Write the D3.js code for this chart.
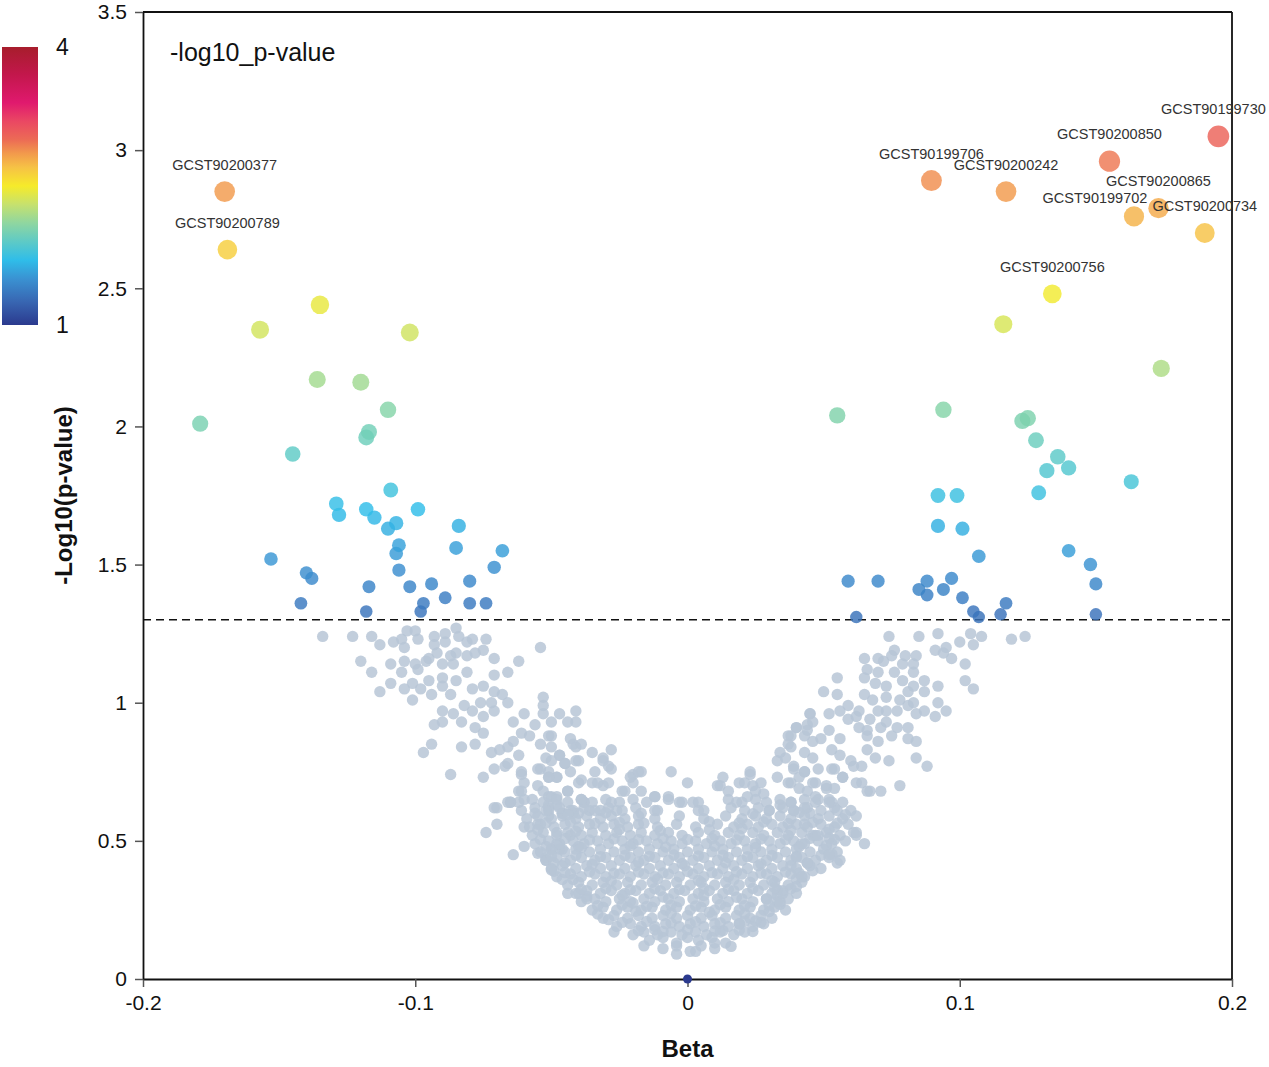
<!DOCTYPE html>
<html>
<head>
<meta charset="utf-8">
<script src="https://cdn.jsdelivr.net/npm/d3@7"></script>
<style>
    body { margin: 0; background: #fff; font-family: "Liberation Sans", Arial, sans-serif; }
</style>
</head>
<body>
<div id="chart"></div>
<script>
// ---- data: [beta, -log10(p)] ----
// non-significant studies (grey)
const grayPoints = [
    // left arm, upper part
    [-0.134,1.24],[-0.123,1.24],[-0.116,1.24],[-0.113,1.21],[-0.108,1.22],[-0.105,1.23],[-0.103,1.26],[-0.100,1.26],[-0.099,1.23],[-0.104,1.20],
    [-0.093,1.24],[-0.089,1.25],[-0.089,1.22],[-0.093,1.21],[-0.085,1.27],[-0.084,1.24],[-0.081,1.22],[-0.079,1.23],[-0.074,1.23],[-0.075,1.19],
    [-0.078,1.18],[-0.081,1.17],[-0.085,1.18],[-0.087,1.17],[-0.092,1.18],[-0.095,1.16],[-0.054,1.20],[-0.120,1.15],[-0.116,1.11],[-0.109,1.14],
    [-0.104,1.15],[-0.105,1.11],[-0.100,1.14],[-0.099,1.12],[-0.096,1.15],[-0.090,1.14],[-0.086,1.14],[-0.081,1.11],[-0.071,1.16],[-0.062,1.15],
    [-0.066,1.11],[-0.071,1.10],[-0.109,1.07],[-0.113,1.04],[-0.104,1.05],[-0.101,1.07],[-0.098,1.05],[-0.095,1.08],[-0.090,1.09],[-0.090,1.06],
    [-0.085,1.08],[-0.087,1.03],[-0.094,1.03],[-0.101,1.01],[-0.079,1.05],[-0.075,1.06],[-0.071,1.04],[-0.068,1.03],[-0.066,1.00],[-0.082,0.99],
    [-0.076,1.00],[-0.072,1.00],[-0.090,0.97],[-0.086,0.96],[-0.083,0.93],[-0.079,0.97],[-0.075,0.95],[-0.071,0.97],[-0.078,0.91],[-0.075,0.89],
    [-0.093,0.92],[-0.090,0.93],[-0.094,0.85],[-0.097,0.82],[-0.083,0.84],[-0.078,0.85],[-0.087,0.74],[-0.064,0.93],[-0.060,0.96],[-0.053,1.02],
    [-0.053,0.99],[-0.053,0.96],[-0.050,0.93],[-0.047,0.96],[-0.041,0.97],[-0.044,0.93],[-0.041,0.93],[-0.056,0.92],[-0.061,0.89],[-0.064,0.86],
    [-0.058,0.88],[-0.054,0.85],[-0.050,0.88],[-0.050,0.84],[-0.043,0.87],[-0.041,0.84],[-0.047,0.81],[-0.052,0.80],[-0.045,0.78],[-0.041,0.79],
    [-0.066,0.84],[-0.069,0.83],[-0.072,0.82],[-0.062,0.81],[-0.066,0.78],[-0.071,0.76],[-0.075,0.73],[-0.061,0.74],[-0.060,0.71],[-0.054,0.76],
    [-0.051,0.73],[-0.048,0.73],[-0.055,0.70],[-0.062,0.68],[-0.065,0.64],[-0.071,0.62],[-0.050,0.66],[-0.044,0.68],[-0.040,0.71],[-0.048,0.63],
    [-0.051,0.61],[-0.038,0.64],
    // left arm, lower part
    [-0.074,0.53],[-0.070,0.56],[-0.064,0.45],[-0.060,0.48],[-0.060,0.55],[-0.055,0.56],[-0.070,0.62],[-0.066,0.64],[-0.052,0.44],[-0.049,0.39],
    [-0.046,0.47],[-0.048,0.49],[-0.035,0.82],[-0.031,0.80],[-0.028,0.83],[-0.029,0.77],[-0.034,0.75],[-0.028,0.76],[-0.035,0.71],[-0.031,0.70],
    [-0.020,0.74],[-0.017,0.75],[-0.020,0.71],[-0.024,0.68],[-0.012,0.66],[-0.007,0.65],[-0.006,0.75],[0.000,0.71],[0.004,0.64],[-0.003,0.64],
    [-0.017,0.60],[-0.011,0.61],[-0.028,0.64],[-0.026,0.61],[-0.032,0.61],[-0.036,0.61],[-0.040,0.60],[-0.051,0.88],[-0.047,0.81],[-0.042,0.85],
    [-0.039,0.85],[-0.031,0.79],[-0.040,0.79],[-0.045,0.78],[-0.050,0.79],[-0.051,0.75],[-0.048,0.73],[-0.043,0.75],[-0.039,0.72],[-0.033,0.71],
    [-0.029,0.71],[-0.021,0.73],[-0.018,0.75],[-0.023,0.68],[-0.017,0.68],[-0.053,0.68],[-0.048,0.66],[-0.044,0.68],[-0.039,0.65],[-0.051,0.62],
    [-0.046,0.60],[-0.042,0.61],
    [-0.048,0.53],[-0.052,0.43],[-0.045,0.42],[-0.047,0.47],[-0.050,0.47],[-0.043,0.52],[-0.040,0.48],[-0.042,0.36],[-0.040,0.31],[-0.037,0.29],
    [-0.067,0.77],[-0.061,0.75],[-0.055,0.76],[-0.051,0.73],[-0.061,0.68],[-0.065,0.64],[-0.060,0.65],[-0.051,0.66],[-0.051,0.63],[-0.051,0.59],
    [-0.046,0.60],[-0.042,0.60],[-0.038,0.64],
    // dense core
    [-0.004,0.09],[0.003,0.10],[0.010,0.13],
    [-0.009,0.11],[-0.004,0.12],[0.001,0.10],[0.005,0.12],[0.010,0.11],
    [-0.014,0.14],[-0.009,0.15],[-0.004,0.13],[0.000,0.15],[0.004,0.14],[0.009,0.15],[0.014,0.13],
    [-0.020,0.16],[-0.016,0.17],[-0.011,0.16],[-0.006,0.17],[-0.002,0.16],[0.003,0.17],[0.007,0.16],[0.012,0.17],[0.017,0.16],[0.021,0.17],
    [-0.026,0.19],[-0.021,0.20],[-0.017,0.19],[-0.012,0.19],[-0.008,0.20],[-0.003,0.19],[0.001,0.20],[0.006,0.19],[0.010,0.20],[0.015,0.19],
    [0.019,0.20],[0.024,0.19],[0.028,0.20],
    [-0.031,0.22],[-0.027,0.23],[-0.022,0.22],[-0.018,0.23],[-0.013,0.22],[-0.009,0.23],[-0.004,0.22],[0.000,0.23],[0.005,0.22],[0.009,0.23],
    [0.014,0.22],[0.018,0.23],[0.023,0.22],[0.027,0.23],[0.031,0.22],
    [-0.035,0.25],[-0.031,0.26],[-0.026,0.25],[-0.022,0.26],[-0.017,0.25],[-0.013,0.26],[-0.008,0.25],[-0.004,0.26],[0.001,0.25],[0.005,0.26],
    [0.010,0.25],[0.014,0.26],[0.019,0.25],[0.023,0.26],[0.028,0.25],[0.032,0.26],[0.036,0.25],
    [-0.039,0.28],[-0.034,0.29],[-0.030,0.28],[-0.025,0.29],[-0.021,0.28],[-0.016,0.29],[-0.012,0.28],[-0.007,0.29],[-0.003,0.28],[0.002,0.29],
    [0.006,0.28],[0.011,0.29],[0.015,0.28],[0.020,0.29],[0.024,0.28],[0.029,0.29],[0.033,0.28],[0.037,0.29],
    [-0.041,0.31],[-0.037,0.32],[-0.032,0.31],[-0.028,0.32],[-0.023,0.31],[-0.019,0.32],[-0.014,0.31],[-0.010,0.32],[-0.005,0.31],[-0.001,0.32],
    [0.004,0.31],[0.008,0.32],[0.013,0.31],[0.017,0.32],[0.022,0.31],[0.026,0.32],[0.031,0.31],[0.035,0.32],[0.040,0.31],
    [-0.044,0.34],[-0.040,0.35],[-0.035,0.34],[-0.031,0.35],[-0.026,0.34],[-0.022,0.35],[-0.017,0.34],[-0.013,0.35],[-0.008,0.34],[-0.004,0.35],
    [0.001,0.34],[0.005,0.35],[0.010,0.34],[0.014,0.35],[0.019,0.34],[0.023,0.35],[0.028,0.34],[0.032,0.35],[0.037,0.34],[0.042,0.35],
    [-0.048,0.37],[-0.043,0.38],[-0.039,0.37],[-0.034,0.38],[-0.030,0.37],[-0.025,0.38],[-0.021,0.37],[-0.016,0.38],[-0.012,0.37],[-0.007,0.38],
    [-0.003,0.37],[0.002,0.38],[0.006,0.37],[0.011,0.38],[0.015,0.37],[0.020,0.38],[0.024,0.37],[0.029,0.38],[0.033,0.37],[0.038,0.38],[0.043,0.37],
    [-0.050,0.40],[-0.046,0.41],[-0.041,0.40],[-0.037,0.41],[-0.032,0.40],[-0.028,0.41],[-0.023,0.40],[-0.019,0.41],[-0.014,0.40],[-0.010,0.41],
    [-0.005,0.40],[-0.001,0.41],[0.004,0.40],[0.008,0.41],[0.013,0.40],[0.017,0.41],[0.022,0.40],[0.026,0.41],[0.031,0.40],[0.035,0.41],
    [0.040,0.40],[0.045,0.41],[0.049,0.40],
    [-0.052,0.43],[-0.048,0.44],[-0.043,0.43],[-0.039,0.44],[-0.034,0.43],[-0.030,0.44],[-0.025,0.43],[-0.021,0.44],[-0.016,0.43],[-0.012,0.44],
    [-0.007,0.43],[-0.003,0.44],[0.002,0.43],[0.006,0.44],[0.011,0.43],[0.015,0.44],[0.020,0.43],[0.024,0.44],[0.029,0.43],[0.033,0.44],
    [0.038,0.43],[0.042,0.44],[0.047,0.43],[0.052,0.44],[0.056,0.43],
    [-0.054,0.46],[-0.050,0.47],[-0.045,0.46],[-0.041,0.47],[-0.036,0.46],[-0.032,0.47],[-0.027,0.46],[-0.023,0.47],[-0.018,0.46],[-0.014,0.47],
    [-0.009,0.46],[-0.005,0.47],[0.000,0.46],[0.004,0.47],[0.009,0.46],[0.013,0.47],[0.018,0.46],[0.022,0.47],[0.027,0.46],[0.031,0.47],
    [0.036,0.46],[0.040,0.47],[0.045,0.46],[0.050,0.47],[0.055,0.46],
    [-0.056,0.49],[-0.051,0.50],[-0.047,0.49],[-0.042,0.50],[-0.038,0.49],[-0.033,0.50],[-0.029,0.49],[-0.024,0.50],[-0.020,0.49],[-0.015,0.50],
    [-0.011,0.49],[-0.006,0.50],[-0.002,0.49],[0.003,0.50],[0.007,0.49],[0.012,0.50],[0.016,0.49],[0.021,0.50],[0.025,0.49],[0.030,0.50],
    [0.034,0.49],[0.039,0.50],[0.043,0.49],[0.048,0.50],[0.053,0.49],[0.058,0.50],
    [-0.057,0.52],[-0.053,0.53],[-0.048,0.52],[-0.044,0.53],[-0.039,0.52],[-0.035,0.53],[-0.030,0.52],[-0.026,0.53],[-0.021,0.52],[-0.017,0.53],
    [-0.012,0.52],[-0.007,0.53],[-0.002,0.52],[0.004,0.53],[0.010,0.52],[0.015,0.53],[0.019,0.52],[0.024,0.53],[0.028,0.52],[0.033,0.53],
    [0.037,0.52],[0.042,0.53],[0.046,0.52],[0.051,0.53],[0.056,0.52],[0.061,0.53],
    [-0.058,0.55],[-0.054,0.56],[-0.049,0.55],[-0.045,0.56],[-0.040,0.55],[-0.036,0.56],[-0.031,0.55],[-0.027,0.56],[-0.022,0.55],[-0.018,0.56],
    [-0.011,0.55],[-0.004,0.56],[0.003,0.55],[0.011,0.56],[0.017,0.55],[0.022,0.56],[0.026,0.55],[0.031,0.56],[0.035,0.55],[0.040,0.56],
    [0.044,0.55],[0.049,0.56],[0.054,0.55],[0.059,0.56],
    [-0.059,0.58],[-0.055,0.59],[-0.050,0.58],[-0.046,0.59],[-0.041,0.58],[-0.037,0.59],[-0.032,0.58],[-0.028,0.59],[-0.023,0.58],[-0.018,0.59],
    [-0.012,0.58],[-0.003,0.59],[0.006,0.58],[0.014,0.59],[0.020,0.58],[0.025,0.59],[0.029,0.58],[0.034,0.59],[0.038,0.58],[0.043,0.59],
    [0.048,0.58],[0.052,0.59],[0.057,0.58],
    [-0.061,0.61],[-0.056,0.62],[-0.052,0.61],[-0.047,0.62],[-0.043,0.61],[-0.038,0.62],[-0.034,0.61],[-0.029,0.62],[-0.024,0.61],[-0.019,0.62],
    [-0.012,0.61],[0.004,0.61],[0.016,0.62],[0.021,0.61],[0.026,0.62],[0.030,0.61],[0.035,0.62],[0.039,0.61],[0.044,0.62],[0.049,0.61],
    [0.054,0.62],[0.060,0.61],
    [-0.062,0.64],[-0.057,0.65],[-0.053,0.64],[-0.048,0.65],[-0.044,0.64],[-0.039,0.65],[-0.035,0.64],[-0.030,0.65],[-0.025,0.64],[-0.020,0.65],
    [-0.015,0.64],[0.015,0.65],[0.020,0.64],[0.025,0.65],[0.029,0.64],[0.034,0.65],[0.038,0.64],[0.043,0.65],[0.047,0.64],[0.052,0.65],[0.057,0.64],
    [-0.012,0.66],[-0.007,0.66],[-0.002,0.64],[0.002,0.64],[0.006,0.61],[0.023,0.75],[0.012,0.70],[0.019,0.71],[0.024,0.70],[0.022,0.66],
    // core, in-between studies
    [-0.033,0.235],[-0.019,0.245],[-0.006,0.238],[0.008,0.242],[0.021,0.236],[0.030,0.244],
    [-0.037,0.300],[-0.024,0.303],[-0.009,0.297],[0.006,0.302],[0.018,0.296],[0.033,0.301],
    [-0.046,0.360],[-0.028,0.355],[-0.011,0.362],[0.004,0.357],[0.017,0.360],[0.031,0.356],[0.040,0.362],
    [-0.049,0.420],[-0.035,0.415],[-0.018,0.423],[-0.002,0.418],[0.014,0.421],[0.027,0.416],[0.044,0.420],
    [-0.052,0.480],[-0.039,0.475],[-0.021,0.482],[-0.008,0.478],[0.010,0.481],[0.025,0.476],[0.041,0.479],[0.051,0.483],
    [-0.055,0.540],[-0.041,0.535],[-0.025,0.541],[-0.010,0.537],[0.008,0.540],[0.020,0.545],[0.038,0.538],[0.052,0.542],
    [-0.056,0.600],[-0.044,0.595],[-0.030,0.602],[0.024,0.598],[0.041,0.603],[0.058,0.595],
    [-0.027,0.170],[-0.012,0.178],[0.013,0.175],[0.024,0.172],[-0.016,0.120],[0.016,0.118],
    // core, second layer
    [-0.018,0.175],[-0.009,0.172],[0.000,0.178],[0.010,0.174],[0.019,0.177],
    [-0.024,0.205],[-0.015,0.208],[-0.006,0.203],[0.003,0.207],[0.012,0.204],[0.021,0.209],[0.027,0.205],
    [-0.033,0.265],[-0.024,0.268],[-0.015,0.263],[-0.006,0.267],[0.003,0.264],[0.012,0.269],[0.021,0.265],[0.030,0.268],
    [-0.039,0.325],[-0.030,0.328],[-0.021,0.323],[-0.012,0.327],[-0.003,0.324],[0.006,0.329],[0.015,0.325],[0.024,0.328],[0.033,0.323],[0.038,0.327],
    [-0.045,0.385],[-0.036,0.388],[-0.027,0.383],[-0.018,0.387],[-0.009,0.384],[0.000,0.389],[0.009,0.385],[0.018,0.388],[0.027,0.383],[0.036,0.387],[0.041,0.384],
    [-0.050,0.445],[-0.041,0.448],[-0.032,0.443],[-0.023,0.447],[-0.014,0.444],[-0.005,0.449],[0.004,0.445],[0.013,0.448],[0.022,0.443],[0.031,0.447],[0.040,0.444],[0.049,0.448],
    [-0.054,0.505],[-0.045,0.508],[-0.036,0.503],[-0.027,0.507],[-0.018,0.504],[-0.009,0.509],[0.000,0.505],[0.009,0.508],[0.018,0.503],[0.027,0.507],[0.036,0.504],[0.045,0.509],[0.054,0.505],
    [-0.052,0.565],[-0.043,0.568],[-0.034,0.563],[-0.025,0.567],[-0.016,0.564],[0.008,0.569],[0.019,0.565],[0.028,0.568],[0.037,0.563],[0.046,0.567],[0.055,0.564],
    [-0.029,0.215],[-0.020,0.275],[0.034,0.270],[-0.044,0.310],[0.040,0.335],[-0.050,0.395],[0.046,0.392],[-0.055,0.455],[0.053,0.452],
    // right arm, lower part
    [0.013,0.73],[0.023,0.74],[0.027,0.71],[0.021,0.71],[0.011,0.70],[0.015,0.68],[0.018,0.64],[0.025,0.68],[0.028,0.67],[0.030,0.61],
    [0.034,0.63],[0.033,0.73],[0.038,0.71],[0.033,0.79],[0.034,0.82],[0.038,0.88],[0.040,0.91],[0.044,0.92],[0.045,0.96],[0.037,0.85],
    [0.039,0.77],[0.041,0.73],[0.043,0.75],[0.044,0.68],[0.047,0.71],[0.048,0.65],[0.051,0.69],[0.053,0.64],[0.055,0.61],[0.047,0.52],
    [0.052,0.51],[0.055,0.42],[0.052,0.45],[0.062,0.59],[0.062,0.52],[0.065,0.49],[0.043,0.56],[0.045,0.60],[0.039,0.61],[0.042,0.49],
    [0.044,0.42],[0.040,0.44],[0.038,0.41],[0.042,0.37],[0.034,0.28],[0.035,0.31],[0.032,0.33],[0.029,0.29],[0.025,0.21],[0.019,0.20],
    [0.048,0.52],[0.062,0.53],[0.071,0.68],[0.067,0.68],[0.064,0.71],[0.061,0.77],[0.057,0.73],[0.053,0.76],
    // right arm, upper part
    [0.074,1.24],[0.085,1.24],[0.092,1.25],[0.104,1.25],[0.108,1.24],[0.100,1.22],[0.105,1.21],[0.119,1.23],[0.124,1.24],[0.091,1.19],
    [0.095,1.20],[0.094,1.18],[0.097,1.16],[0.102,1.14],[0.102,1.08],[0.105,1.05],[0.076,1.19],[0.080,1.17],[0.084,1.17],[0.065,1.16],
    [0.070,1.16],[0.075,1.17],[0.072,1.15],[0.066,1.12],[0.070,1.11],[0.076,1.11],[0.079,1.14],[0.083,1.14],[0.083,1.11],[0.065,1.09],
    [0.069,1.07],[0.073,1.06],[0.079,1.08],[0.083,1.06],[0.087,1.08],[0.092,1.06],[0.087,1.04],[0.055,1.09],[0.050,1.04],[0.055,1.03],
    [0.065,1.03],[0.068,1.01],[0.073,1.02],[0.078,1.01],[0.081,1.04],[0.083,1.00],[0.092,1.00],[0.095,0.97],[0.091,0.95],[0.087,0.97],
    [0.084,0.96],[0.081,0.99],[0.077,0.97],[0.073,0.97],[0.070,0.97],[0.063,0.97],[0.059,0.99],[0.052,0.96],[0.056,0.97],[0.045,0.96],
    [0.046,0.93],[0.059,0.94],[0.062,0.95],[0.067,0.94],[0.073,0.93],[0.077,0.91],[0.081,0.91],[0.063,0.91],[0.066,0.90],[0.071,0.91],
    [0.075,0.88],[0.081,0.87],[0.084,0.86],[0.070,0.86],[0.066,0.88],[0.052,0.90],[0.056,0.87],[0.049,0.87],[0.044,0.90],[0.040,0.91],
    [0.037,0.88],[0.038,0.84],[0.043,0.88],[0.046,0.86],[0.066,0.83],[0.069,0.80],[0.074,0.79],[0.084,0.80],[0.088,0.77],[0.053,0.83],
    [0.056,0.81],[0.060,0.79],[0.064,0.77],[0.054,0.76],[0.057,0.73],[0.062,0.71],[0.066,0.68],[0.078,0.70],[0.043,0.82],[0.046,0.80],
    [0.048,0.76],[0.043,0.75],[0.039,0.76],[0.036,0.80],[0.046,0.71],[0.041,0.69],[0.051,0.70],[0.054,0.69],[0.047,0.66],[0.052,0.64],
    [0.037,0.71],[0.038,0.64],[0.043,0.62]
];

// significant studies, no label
const sigPoints = [
    [-0.157,2.35],[-0.135,2.44],[-0.102,2.34],[-0.136,2.17],[-0.120,2.16],[-0.110,2.06],[-0.117,1.98],[-0.118,1.96],[-0.179,2.01],[-0.145,1.90],
    [-0.129,1.72],[-0.128,1.68],[-0.118,1.70],[-0.115,1.67],[-0.109,1.77],[-0.099,1.70],[-0.107,1.65],[-0.110,1.63],[-0.084,1.64],[-0.106,1.57],
    [-0.107,1.54],[-0.085,1.56],[-0.068,1.55],[-0.071,1.49],[-0.106,1.48],[-0.153,1.52],[-0.140,1.47],[-0.138,1.45],[-0.117,1.42],[-0.102,1.42],
    [-0.094,1.43],[-0.080,1.44],[-0.089,1.38],[-0.097,1.36],[-0.080,1.36],[-0.074,1.36],[-0.142,1.36],[-0.118,1.33],[-0.098,1.33],
    [0.116,2.37],[0.174,2.21],[0.055,2.04],[0.094,2.06],[0.123,2.02],[0.125,2.03],[0.128,1.95],[0.136,1.89],[0.140,1.85],[0.132,1.84],
    [0.129,1.76],[0.163,1.80],[0.092,1.75],[0.099,1.75],[0.092,1.64],[0.101,1.63],[0.107,1.53],[0.140,1.55],[0.148,1.50],[0.150,1.43],
    [0.059,1.44],[0.070,1.44],[0.088,1.44],[0.097,1.45],[0.085,1.41],[0.094,1.41],[0.088,1.39],[0.101,1.38],[0.117,1.36],[0.105,1.33],
    [0.107,1.31],[0.115,1.32],[0.150,1.32],[0.062,1.31]
];

// labelled studies
const labelNames = ["GCST90200377","GCST90200789","GCST90199706","GCST90200242","GCST90200850",
                    "GCST90199730","GCST90200865","GCST90199702","GCST90200734","GCST90200756"];
const labelBeta  = [-0.170, -0.169, 0.0896, 0.117, 0.155, 0.195, 0.173, 0.164, 0.190, 0.134];
const labelLogP  = [2.85, 2.64, 2.89, 2.85, 2.96, 3.05, 2.79, 2.76, 2.70, 2.48];

// the study sitting exactly on the origin
const originPoint = [[0, 0]];

const xTicks = [-0.2, -0.1, 0, 0.1, 0.2];
const yTicks = [0, 0.5, 1, 1.5, 2, 2.5, 3, 3.5];
const legendTicks = [1, 4];
const threshold = 1.3;

// colour bar stops (-log10 p -> colour)
const stopValues = [1, 1.25, 1.5, 1.7, 1.9, 2.1, 2.3, 2.5, 2.7, 2.85, 3.0, 3.2, 3.4, 3.7, 4];
const stopColors = ["#2b3a8e", "#3866b2", "#3a92d2", "#2fbde9", "#5ecac6", "#8fd6a0", "#c6e16e",
                    "#f6eb2a", "#f6c245", "#f29a4c", "#ec6b55", "#ea4763", "#e0196e", "#c3174c", "#a71d2c"];

class VolcanoPlot {
    constructor(parentElement) {
        this.parentElement = parentElement;
        this.initVis();
    }

    initVis() {
        let vis = this;

        vis.margin = {top: 12, right: 37, bottom: 88, left: 143};
        vis.totalWidth = 1269;
        vis.totalHeight = 1067;
        vis.width = vis.totalWidth - vis.margin.left - vis.margin.right;
        vis.height = vis.totalHeight - vis.margin.top - vis.margin.bottom;

        vis.root = d3.select("#" + vis.parentElement).append("svg")
            .attr("width", vis.totalWidth)
            .attr("height", vis.totalHeight);

        vis.svg = vis.root.append("g")
            .attr("transform", "translate(" + vis.margin.left + "," + vis.margin.top + ")");

        vis.x = d3.scaleLinear().domain([-0.2, 0.2]).range([0, vis.width]);
        vis.y = d3.scaleLinear().domain([0, 3.5]).range([vis.height, 0]);

        vis.color = d3.scaleLinear().domain(stopValues).range(stopColors).clamp(true);
        vis.radius = d3.scaleLinear().domain([0, 1.3, 3.1]).range([4.5, 6.2, 11]).clamp(true);

        this.wrangleData();
    }

    wrangleData() {
        let vis = this;

        vis.grayData = grayPoints.map(d => ({beta: d[0], logp: d[1]}));

        vis.sigData = sigPoints.map(d => ({beta: d[0], logp: d[1], name: ""}))
            .concat(labelNames.map((n, i) => ({beta: labelBeta[i], logp: labelLogP[i], name: n})));

        // smaller / weaker points underneath
        vis.sigData.sort((a, b) => d3.ascending(a.logp, b.logp));

        vis.labelData = vis.sigData.filter(d => d.name !== "");

        this.updateVis();
    }

    updateVis() {
        let vis = this;

        // axes
        let xAxis = d3.axisBottom(vis.x).tickValues(xTicks).tickSize(8).tickSizeOuter(0)
            .tickPadding(8).tickFormat(d => String(d));
        let yAxis = d3.axisLeft(vis.y).tickValues(yTicks).tickSize(8).tickSizeOuter(0)
            .tickPadding(8).tickFormat(d => String(d));

        let gx = vis.svg.append("g")
            .attr("class", "x-axis axis")
            .attr("transform", `translate(0,${vis.height})`)
            .call(xAxis);
        let gy = vis.svg.append("g")
            .attr("class", "y-axis axis")
            .call(yAxis);

        [gx, gy].forEach(g => {
            g.select(".domain").attr("stroke", "#111").attr("stroke-width", 1.8);
            g.selectAll(".tick line").attr("stroke", "#555").attr("stroke-width", 1.5);
            g.selectAll(".tick text")
                .attr("fill", "#111")
                .style("font-family", "'Liberation Sans', Arial, sans-serif")
                .style("font-size", "21px");
        });

        // frame top + right
        vis.svg.append("line")
            .attr("x1", 0).attr("x2", vis.width).attr("y1", 0).attr("y2", 0)
            .attr("stroke", "#111").attr("stroke-width", 1.8);
        vis.svg.append("line")
            .attr("x1", vis.width).attr("x2", vis.width).attr("y1", 0).attr("y2", vis.height)
            .attr("stroke", "#111").attr("stroke-width", 1.8);

        // grey points
        vis.svg.append("g").selectAll(".gray-dot")
            .data(vis.grayData)
            .enter().append("circle")
            .attr("class", "gray-dot")
            .attr("cx", d => vis.x(d.beta))
            .attr("cy", d => vis.y(d.logp))
            .attr("r", 5.7)
            .attr("fill", "#b7c6d6")
            .attr("fill-opacity", 0.85);

        // significance threshold
        vis.svg.append("line")
            .attr("x1", 0).attr("x2", vis.width)
            .attr("y1", vis.y(threshold)).attr("y2", vis.y(threshold))
            .attr("stroke", "#111")
            .attr("stroke-width", 1.5)
            .attr("stroke-dasharray", "8,5");

        // significant points
        vis.svg.append("g").selectAll(".sig-dot")
            .data(vis.sigData)
            .enter().append("circle")
            .attr("class", "sig-dot")
            .attr("cx", d => vis.x(d.beta))
            .attr("cy", d => vis.y(d.logp))
            .attr("r", d => vis.radius(d.logp))
            .attr("fill", d => vis.color(d.logp))
            .attr("fill-opacity", 0.82);

        // origin study
        vis.svg.append("g").selectAll(".origin-dot")
            .data(originPoint)
            .enter().append("circle")
            .attr("cx", d => vis.x(d[0]))
            .attr("cy", d => vis.y(d[1]))
            .attr("r", d => vis.radius(d[1]))
            .attr("fill", d => vis.color(d[1]));

        // labels (a couple are nudged so they stay readable)
        let nudge = {"GCST90199702": [-39, 9], "GCST90199730": [-5, 0]};
        vis.svg.append("g").selectAll(".dot-label")
            .data(vis.labelData)
            .enter().append("text")
            .attr("class", "dot-label")
            .attr("x", d => vis.x(d.beta) + (nudge[d.name] ? nudge[d.name][0] : 0))
            .attr("y", d => vis.y(d.logp) - 22 + (nudge[d.name] ? nudge[d.name][1] : 0))
            .attr("text-anchor", "middle")
            .attr("fill", "#333")
            .style("font-size", "14.5px")
            .text(d => d.name);

        // in-plot title
        vis.svg.append("text")
            .attr("x", 27).attr("y", 49)
            .attr("fill", "#111")
            .style("font-size", "25px")
            .text("-log10_p-value");

        // axis titles
        vis.svg.append("text")
            .attr("x", vis.width / 2)
            .attr("y", vis.height + 78)
            .attr("text-anchor", "middle")
            .attr("fill", "#111")
            .style("font-size", "24px")
            .style("font-weight", "bold")
            .text("Beta");

        vis.svg.append("text")
            .attr("transform", `translate(${-71},${vis.y(1.75)}) rotate(-90)`)
            .attr("text-anchor", "middle")
            .attr("fill", "#111")
            .style("font-size", "24px")
            .style("font-weight", "bold")
            .text("-Log10(p-value)");

        // colour bar
        let defs = vis.root.append("defs");
        let grad = defs.append("linearGradient")
            .attr("id", "cbar")
            .attr("x1", 0).attr("x2", 0).attr("y1", 1).attr("y2", 0);
        grad.selectAll("stop")
            .data(stopValues)
            .enter().append("stop")
            .attr("offset", d => (d - 1) / 3)
            .attr("stop-color", d => vis.color(d));

        let cbY = d3.scaleLinear().domain([1, 4]).range([325, 47]);
        vis.root.append("rect")
            .attr("x", 2).attr("y", cbY(4))
            .attr("width", 36).attr("height", cbY(1) - cbY(4))
            .attr("fill", "url(#cbar)");

        vis.root.append("g").selectAll(".cb-label")
            .data(legendTicks)
            .enter().append("text")
            .attr("class", "cb-label")
            .attr("x", 56)
            .attr("y", d => cbY(d) + 8)
            .attr("fill", "#111")
            .style("font-size", "23px")
            .text(d => d);
    }
}

new VolcanoPlot("chart");
</script>
</body>
</html>
